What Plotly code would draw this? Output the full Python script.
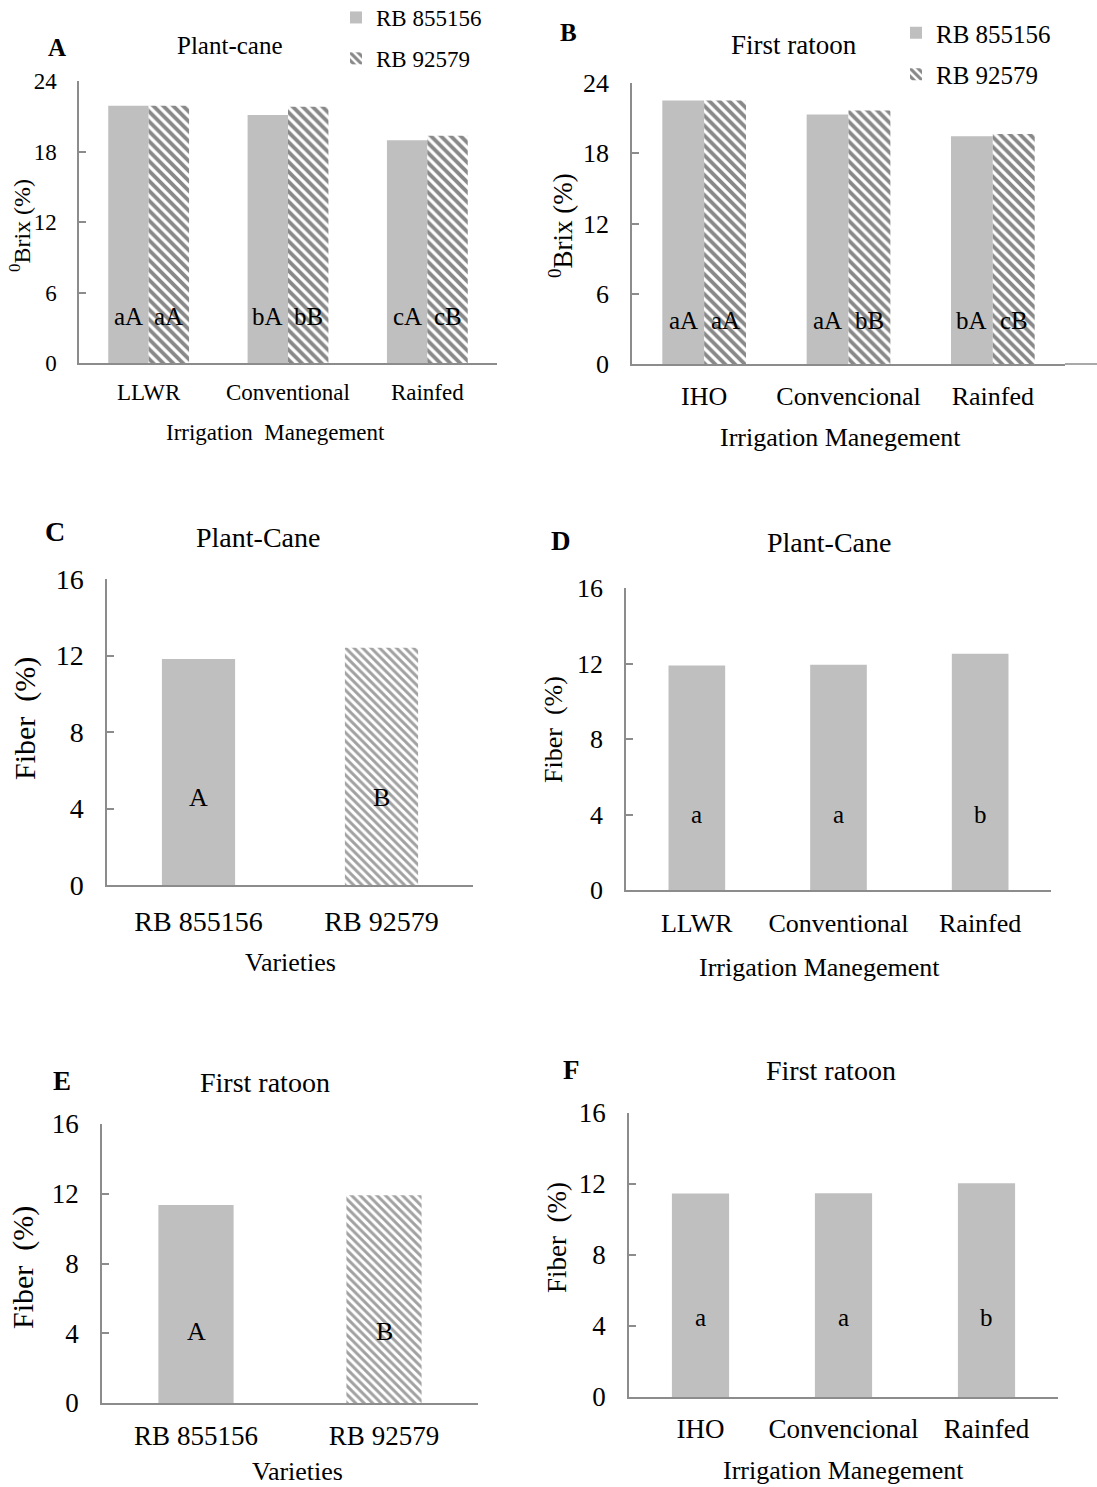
import plotly.graph_objects as go

W, H = 1097, 1487
FONT = "Liberation Serif"

# ---------------- data ----------------
irr_a = ["LLWR", "Conventional", "Rainfed"]
irr_b = ["IHO", "Convencional", "Rainfed"]
varieties = ["RB 855156", "RB 92579"]

brix_pc_855156 = [21.9, 21.1, 18.95]
brix_pc_92579 = [21.9, 21.8, 19.35]
brix_pc_lab_855156 = ["aA", "bA", "cA"]
brix_pc_lab_92579 = ["aA", "bB", "cB"]

brix_fr_855156 = [22.5, 21.3, 19.45]
brix_fr_92579 = [22.5, 21.65, 19.65]
brix_fr_lab_855156 = ["aA", "aA", "bA"]
brix_fr_lab_92579 = ["aA", "bB", "cB"]

fiber_pc_var = [11.82, 12.4]
fiber_pc_var_lab = ["A", "B"]
fiber_pc_irr = [11.9, 11.94, 12.52]
fiber_pc_irr_lab = ["a", "a", "b"]

fiber_fr_var = [11.35, 11.92]
fiber_fr_var_lab = ["A", "B"]
fiber_fr_irr = [11.46, 11.48, 12.04]
fiber_fr_irr_lab = ["a", "a", "b"]

GRAY = "#bfbfbf"
AXC = "#8c8c8c"
LIGHT_HATCH = "#c8c8c8"

def px_x(p):
    return p / W

def px_y(p):
    return 1 - p / H

# panel geometry in pixels: left, right, top, bottom
panels = {
    1: (79, 497, 81, 363),
    2: (632, 1065, 83, 364),
    3: (107, 473, 579, 885),
    4: (626, 1051, 588, 890),
    5: (102, 478, 1124, 1403),
    6: (629, 1058, 1113, 1397),
}

fig = go.Figure()

dark_hatch = dict(shape="\\", fgcolor="#111111", bgcolor="white", size=7, solidity=0.55)

# A
fig.add_trace(go.Bar(x=irr_a, y=brix_pc_855156, name="RB 855156", marker=dict(color=GRAY, line_width=0),
                     xaxis="x", yaxis="y", legend="legend", legendgroup="a1"))
fig.add_trace(go.Bar(x=irr_a, y=brix_pc_92579, name="RB 92579", marker=dict(color="white", line_width=0, pattern=dark_hatch),
                     xaxis="x", yaxis="y", legend="legend", legendgroup="a2"))
# B
fig.add_trace(go.Bar(x=irr_b, y=brix_fr_855156, name="RB 855156", marker=dict(color=GRAY, line_width=0),
                     xaxis="x2", yaxis="y2", legend="legend2", legendgroup="b1"))
fig.add_trace(go.Bar(x=irr_b, y=brix_fr_92579, name="RB 92579", marker=dict(color="white", line_width=0, pattern=dark_hatch),
                     xaxis="x2", yaxis="y2", legend="legend2", legendgroup="b2"))
# C
fig.add_trace(go.Bar(x=varieties, y=fiber_pc_var, width=0.4, showlegend=False,
                     marker=dict(color=[GRAY, "white"], line_width=0,
                                 pattern=dict(shape=["", "\\"], fgcolor=LIGHT_HATCH, bgcolor=[GRAY, "white"], size=6, solidity=0.5)),
                     xaxis="x3", yaxis="y3"))
# D
fig.add_trace(go.Bar(x=irr_a, y=fiber_pc_irr, width=0.4, showlegend=False,
                     marker=dict(color=GRAY, line_width=0), xaxis="x4", yaxis="y4"))
# E
fig.add_trace(go.Bar(x=varieties, y=fiber_fr_var, width=0.4, showlegend=False,
                     marker=dict(color=[GRAY, "white"], line_width=0,
                                 pattern=dict(shape=["", "\\"], fgcolor=LIGHT_HATCH, bgcolor=[GRAY, "white"], size=6, solidity=0.5)),
                     xaxis="x5", yaxis="y5"))
# F
fig.add_trace(go.Bar(x=irr_b, y=fiber_fr_irr, width=0.4, showlegend=False,
                     marker=dict(color=GRAY, line_width=0), xaxis="x6", yaxis="y6"))

tick_sizes = {1: 23, 2: 26, 3: 28, 4: 26, 5: 27, 6: 27}
yranges = {1: (24, 6), 2: (24, 6), 3: (16, 4), 4: (16, 4), 5: (16, 4), 6: (16, 4)}
ncat = {1: 3, 2: 3, 3: 2, 4: 3, 5: 2, 6: 3}
xstand = {1: 8, 2: 8, 3: 11, 4: 9, 5: 8, 6: 7}

layout = {}
for i, (l, r, t, b) in panels.items():
    sfx = "" if i == 1 else str(i)
    layout["xaxis" + sfx] = dict(
        domain=[px_x(l), px_x(r)], anchor="y" + sfx, range=[-0.5, ncat[i] - 0.5],
        showline=True, linecolor=AXC, linewidth=1.5, ticks="", showgrid=False, zeroline=False,
        tickfont=dict(family=FONT, size=tick_sizes[i], color="black"), ticklabelstandoff=xstand[i],
        fixedrange=True)
    top, dt = yranges[i]
    layout["yaxis" + sfx] = dict(
        domain=[px_y(b), px_y(t)], anchor="x" + sfx, range=[0, top], dtick=dt, tick0=0,
        showline=True, linecolor=AXC, linewidth=1.5, ticks="inside", ticklen=7, tickcolor=AXC, tickwidth=1.5,
        showgrid=False, zeroline=False,
        tickfont=dict(family=FONT, size=tick_sizes[i], color="black"), ticklabelstandoff=16,
        fixedrange=True)

ann = []

def txt(x, y, s, size, bold=False, angle=0):
    ann.append(dict(x=px_x(x), y=px_y(y), xref="paper", yref="paper", text=("<b>%s</b>" % s) if bold else s,
                    showarrow=False, textangle=angle, xanchor="center", yanchor="middle",
                    font=dict(family=FONT, size=size, color="black")))

# panel letters & titles
txt(57, 47, "A", 25, bold=True); txt(230, 45, "Plant-cane", 25)
txt(568, 33, "B", 25, bold=True); txt(794, 45, "First ratoon", 27)
txt(55, 531, "C", 28, bold=True); txt(258, 537, "Plant-Cane", 28)
txt(561, 541, "D", 27, bold=True); txt(829, 542, "Plant-Cane", 28)
txt(62, 1081, "E", 27, bold=True); txt(265, 1082, "First ratoon", 28)
txt(571, 1070, "F", 27, bold=True); txt(831, 1070, "First ratoon", 28)

# axis titles
brix_title = "<sup>0</sup>Brix (%)"
txt(20, 226, brix_title, 24, angle=-90)
txt(561, 226, brix_title, 27, angle=-90)
txt(275, 432, "Irrigation&nbsp;&nbsp;Manegement", 23)
txt(840, 437, "Irrigation Manegement", 26)
txt(25, 719, "Fiber&nbsp;&nbsp;(%)", 30, angle=-90)
txt(290, 962, "Varieties", 26)
txt(553, 730, "Fiber&nbsp;&nbsp;(%)", 26, angle=-90)
txt(819, 967, "Irrigation Manegement", 26)
txt(23, 1268, "Fiber&nbsp;&nbsp;(%)", 30, angle=-90)
txt(297, 1471, "Varieties", 26)
txt(557, 1238, "Fiber&nbsp;&nbsp;(%)", 27, angle=-90)
txt(843, 1470, "Irrigation Manegement", 26)

# significance letters inside bars
def labels(axis_sfx, cats, labs, ypos, size, shift=0.0):
    for k, (c, s) in enumerate(zip(cats, labs)):
        ann.append(dict(x=k + shift, y=ypos, xref="x" + axis_sfx, yref="y" + axis_sfx, text=s, showarrow=False,
                        xanchor="center", yanchor="middle", font=dict(family=FONT, size=size, color="black")))

half = (1 - 0.42) / 4  # centre of each bar in a two-bar group
labels("", irr_a, brix_pc_lab_855156, 4.0, 25, -half)
labels("", irr_a, brix_pc_lab_92579, 4.0, 25, half)
labels("2", irr_b, brix_fr_lab_855156, 3.7, 25, -half)
labels("2", irr_b, brix_fr_lab_92579, 3.7, 25, half)
labels("3", varieties, fiber_pc_var_lab, 4.55, 26)
labels("4", irr_a, fiber_pc_irr_lab, 4.0, 25)
labels("5", varieties, fiber_fr_var_lab, 4.1, 26)
labels("6", irr_b, fiber_fr_irr_lab, 4.5, 25)

shapes = [dict(type="line", xref="paper", yref="paper", x0=px_x(1065), x1=1.0, y0=px_y(364), y1=px_y(364),
               line=dict(color=AXC, width=1.5))]

fig.update_layout(
    **layout,
    width=W, height=H, margin=dict(l=0, r=0, t=0, b=0, autoexpand=False),
    paper_bgcolor="white", plot_bgcolor="white",
    barmode="group", bargap=0.42, bargroupgap=0,
    annotations=ann, shapes=shapes,
    legend=dict(x=px_x(336), y=px_y(-4), xanchor="left", yanchor="top", bgcolor="rgba(0,0,0,0)",
                font=dict(family=FONT, size=23, color="black"), itemwidth=30, tracegroupgap=8),
    legend2=dict(x=px_x(896), y=px_y(10), xanchor="left", yanchor="top", bgcolor="rgba(0,0,0,0)",
                 font=dict(family=FONT, size=25, color="black"), itemwidth=30, tracegroupgap=6),
    showlegend=True,
)

fig.write_html("out.html", config={"displayModeBar": False},
               post_script="document.body.style.margin='0';document.body.style.padding='0';")
